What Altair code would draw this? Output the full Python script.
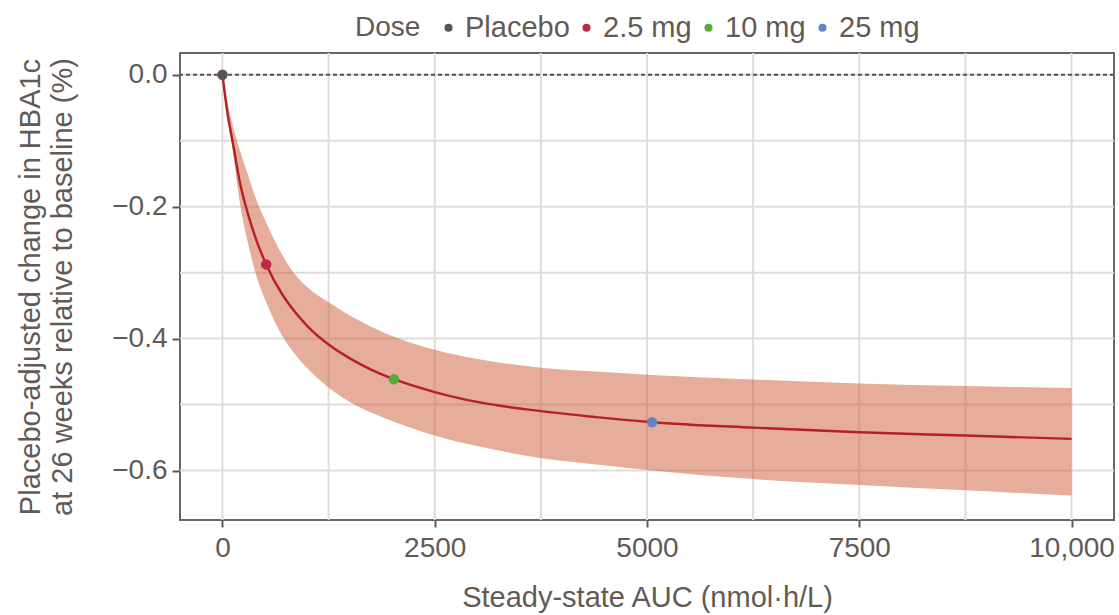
import altair as alt
import pandas as pd

# ---- data ----
curve_x = [0, 60, 125, 200, 300, 400, 515, 700, 850, 1000, 1250, 1500, 1750,
           2020, 2500, 3000, 3750, 4400, 5060, 6250, 7500, 8750, 10000]
curve_mid = [0, -0.059, -0.105, -0.160, -0.211, -0.251, -0.2875, -0.332, -0.359,
             -0.381, -0.409, -0.430, -0.447, -0.4615, -0.481, -0.496, -0.510,
             -0.519, -0.5267, -0.535, -0.542, -0.547, -0.552]
band_upper = [0, -0.042, -0.078, -0.112, -0.152, -0.190, -0.224, -0.272, -0.302,
              -0.322, -0.345, -0.365, -0.382, -0.397, -0.417, -0.431, -0.444,
              -0.450, -0.455, -0.462, -0.468, -0.472, -0.475]
band_lower = [0, -0.068, -0.118, -0.190, -0.255, -0.305, -0.345, -0.395, -0.423,
              -0.445, -0.474, -0.496, -0.512, -0.526, -0.547, -0.563, -0.581,
              -0.591, -0.600, -0.613, -0.622, -0.630, -0.638]

doses = ["Placebo", "2.5 mg", "10 mg", "25 mg"]
dose_auc = [0, 515, 2020, 5060]
dose_change = [0, -0.2875, -0.4615, -0.5267]
dose_colors = ["#5b5450", "#c0284a", "#5aa93c", "#6087c2"]

x_ticks = [0, 2500, 5000, 7500, 10000]
x_grid = [0, 1250, 2500, 3750, 5000, 6250, 7500, 8750, 10000]
y_ticks = [0.0, -0.2, -0.4, -0.6]
y_grid = [0.0, -0.1, -0.2, -0.3, -0.4, -0.5, -0.6]

TEXT = "#625a55"
FONT = "Liberation Sans"
X_TITLE = "Steady-state AUC (nmol·h/L)"
Y_TITLE = ["Placebo-adjusted change in HBA1c", "at 26 weeks relative to baseline (%)"]

curve = pd.DataFrame({"auc": curve_x, "mid": curve_mid, "lo": band_lower, "hi": band_upper})
pts = pd.DataFrame({"Dose": doses, "auc": dose_auc, "chg": dose_change})
xg = pd.DataFrame({"auc": x_grid})
yg = pd.DataFrame({"chg": y_grid})
zr = pd.DataFrame({"chg": [0.0]})

xscale = alt.Scale(domain=[-500, 10500], nice=False, zero=False)
yscale = alt.Scale(domain=[-0.675, 0.033], nice=False, zero=False)
xaxis = alt.Axis(values=x_ticks, grid=False, domain=False,
                 labelExpr="datum.value >= 10000 ? format(datum.value, ',') : format(datum.value, 'd')")
yaxis = alt.Axis(values=y_ticks, grid=False, domain=False, format=".1f")


def X(field):
    return alt.X(field, type="quantitative", scale=xscale, axis=xaxis, title=X_TITLE)


def Y(field):
    return alt.Y(field, type="quantitative", scale=yscale, axis=yaxis, title=Y_TITLE)


grid_x = alt.Chart(xg).mark_rule(color="#e2dcd8", strokeWidth=2).encode(x=X("auc"))
grid_y = alt.Chart(yg).mark_rule(color="#e2dcd8", strokeWidth=2).encode(y=Y("chg"))

band = alt.Chart(curve).mark_area(color="#cc5c36", opacity=0.5, interpolate="monotone").encode(
    x=X("auc"), y=Y("hi"), y2="lo:Q")

line = alt.Chart(curve).mark_line(color="#b52025", strokeWidth=2.4, interpolate="monotone").encode(
    x=X("auc"), y=Y("mid"))

zero = alt.Chart(zr).mark_rule(color="#5a534e", strokeWidth=2, strokeDash=[4, 3]).encode(y=Y("chg"))

points = alt.Chart(pts).mark_circle(size=110, opacity=1).encode(
    x=X("auc"), y=Y("chg"),
    color=alt.Color("Dose:N", scale=alt.Scale(domain=doses, range=dose_colors),
                    sort=doses,
                    legend=alt.Legend(title="Dose", orient="none", legendX=175, legendY=-40,
                                      direction="horizontal", titleOrient="left",
                                      titlePadding=13, symbolType="circle", symbolSize=65,
                                      symbolStrokeWidth=0, labelOffset=2, columnPadding=2,
                                      labelFontSize=29, titleFontSize=28, titleFontWeight="normal",
                                      labelColor=TEXT, titleColor=TEXT, labelFont=FONT, titleFont=FONT)),
)

chart = alt.layer(grid_x, grid_y, band, line, zero, points).properties(
    width=934, height=467,
    autosize=alt.AutoSizeParams(type="none"),
    padding={"left": 180, "top": 53, "right": 5, "bottom": 95},
    background="#ffffff",
).configure_view(
    stroke="#6b6560", strokeWidth=2,
).configure_axis(
    labelFont=FONT, titleFont=FONT, labelColor=TEXT, titleColor=TEXT,
    labelFontSize=28, titleFontSize=29, titleFontWeight="normal",
    tickColor="#5f5853", tickWidth=2,
).configure_axisX(
    tickSize=7, labelPadding=7, titlePadding=21,
).configure_axisY(
    tickSize=8, labelPadding=5, titlePadding=34, titleLineHeight=32,
)

chart.save("out.html", embed_options={"renderer": "svg", "actions": False})
